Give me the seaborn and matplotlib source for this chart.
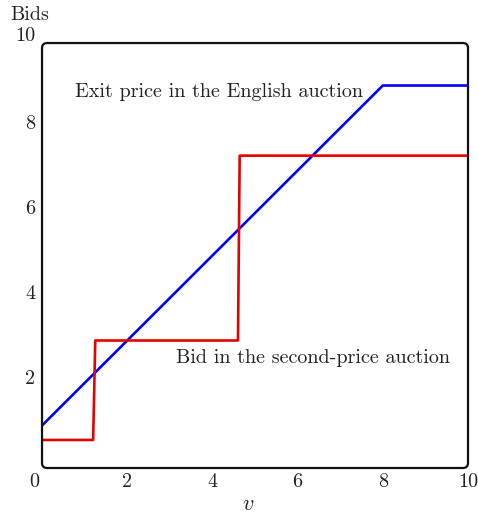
import matplotlib
matplotlib.use("Agg")
import matplotlib.pyplot as plt
import matplotlib.transforms as mtransforms
from matplotlib.patches import FancyBboxPatch
import pandas as pd
import seaborn as sns

# ---- data ----
exit_v = [0, 8, 10]
exit_bid = [1.0, 9.0, 9.0]

spa_v = [0, 1.2, 1.25, 4.6, 4.64, 10]
spa_bid = [0.66, 0.66, 3.0, 3.0, 7.35, 7.35]

x_ticks = [0, 2, 4, 6, 8, 10]
y_ticks = [2, 4, 6, 8, 10]

df_exit = pd.DataFrame({"v": exit_v, "bid": exit_bid})
df_spa = pd.DataFrame({"v": spa_v, "bid": spa_bid})

sns.set_theme(style="white")
plt.rcParams["font.family"] = ["cmr10", "DejaVu Serif"]
plt.rcParams["mathtext.fontset"] = "cm"
plt.rcParams["axes.formatter.use_mathtext"] = True
TXT = "#222222"
FS = 14.5

fig = plt.figure(figsize=(4.78, 5.14), dpi=100)
ax = fig.add_axes([0.0879, 0.0895, 0.8912, 0.8268])

sns.lineplot(data=df_exit, x="v", y="bid", color="#0000ff", lw=1.9,
             estimator=None, sort=False, ax=ax)
sns.lineplot(data=df_spa, x="v", y="bid", color="#e60000", lw=1.9,
             estimator=None, sort=False, ax=ax)

ax.set_xlim(0, 10)
ax.set_ylim(0, 10)
ax.set_xticks(x_ticks)
ax.set_yticks(y_ticks)
ax.set_xticklabels([str(t) for t in x_ticks])
ax.set_yticklabels([str(t) for t in y_ticks])
ax.tick_params(length=0, labelsize=FS, colors=TXT)
ax.tick_params(axis="x", pad=4)
ax.tick_params(axis="y", pad=5)

# small label shifts like the original
for lab, t in zip(ax.get_yticklabels(), y_ticks):
    dy = 9 if t == 10 else 6
    lab.set_transform(lab.get_transform() +
                      mtransforms.ScaledTranslation(0, dy / 100, fig.dpi_scale_trans))
xl0 = ax.get_xticklabels()[0]
xl0.set_transform(xl0.get_transform() +
                  mtransforms.ScaledTranslation(-8 / 100, 0, fig.dpi_scale_trans))

ax.set_xlabel("")
ax.set_ylabel("")

# rounded frame
for s in ax.spines.values():
    s.set_visible(False)
frame = FancyBboxPatch((0, 0), 1, 1, boxstyle="round,pad=0,rounding_size=0.012",
                       transform=ax.transAxes, fill=False, ec="#111111", lw=1.6,
                       clip_on=False, zorder=5)
ax.add_patch(frame)

ax.text(0.77, 8.85, "Exit price in the English auction", fontsize=FS,
        color=TXT, va="center", ha="left")
ax.text(3.15, 2.6, "Bid in the second-price auction", fontsize=FS,
        color=TXT, va="center", ha="left")

ax.text(4.84, -0.85, "$v$", fontsize=16, color=TXT, ha="center", va="center")
ax.text(-0.028, 1.045, "Bids", fontsize=FS, color=TXT, ha="center",
        va="bottom", transform=ax.transAxes)

fig.savefig("out.png", dpi=100)
